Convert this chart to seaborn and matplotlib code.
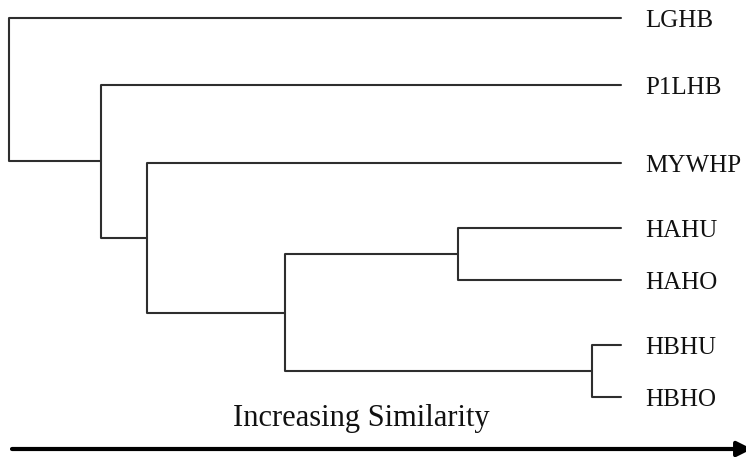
import numpy as np
import pandas as pd
import matplotlib
matplotlib.use("Agg")
import matplotlib.pyplot as plt
import seaborn as sns

# ---- data -------------------------------------------------------------
leaves = ["LGHB", "P1LHB", "MYWHP", "HAHU", "HAHO", "HBHU", "HBHO"]
merge_names = ["C6", "C5", "C4", "C3", "C2", "C1"]
merge_left = ["HBHU", "HAHU", "C5", "MYWHP", "P1LHB", "LGHB"]
merge_right = ["HBHO", "HAHO", "C6", "C4", "C3", "C2"]
merge_sim = [0.953, 0.734, 0.451, 0.225, 0.150, 0.0]
axis_label = "Increasing Similarity"

# ---- layout (rows of leaves, in pixel-like units from top) -------------
leaf_rows = [18, 85, 163, 228, 280, 345, 397]

sns.set_style("white")
plt.rcParams["font.family"] = ["Liberation Serif", "DejaVu Serif"]

W, H = 746, 457
fig = plt.figure(figsize=(W / 100, H / 100), dpi=100)
ax = fig.add_axes([0, 0, 1, 1])

pos = {name: (1.0, row) for name, row in zip(leaves, leaf_rows)}
segs = []
for k, (nm, l, r, s) in enumerate(zip(merge_names, merge_left, merge_right, merge_sim)):
    lx, ly = pos[l]
    rx, ry = pos[r]
    for (px, py) in [(lx, ly), (s, ly), (s, ry), (rx, ry)]:
        segs.append({"x": px, "y": py, "seg": k})
    pos[nm] = (s, (ly + ry) / 2)

df = pd.DataFrame(segs)
sns.lineplot(data=df, x="x", y="y", units="seg", estimator=None, sort=False,
             color="#2e2e2e", linewidth=1.5, legend=False, ax=ax)

px_per_unit = 612
x0 = 9
ax.set_xlim(-x0 / px_per_unit, (W - x0) / px_per_unit)
ax.set_ylim(H, 0)
ax.axis("off")

label_dx = 24 / px_per_unit
for name, row in zip(leaves, leaf_rows):
    ax.text(1.0 + label_dx, row + 3, name, fontsize=18, va="center", ha="left",
            color="#111111")

fig.text(361.5 / W, 1 - 426 / H, axis_label, fontsize=22, ha="center",
         va="baseline", color="#111111")

ax.annotate("", xy=(752 / W, 1 - 449 / H), xytext=(12 / W, 1 - 449 / H),
            xycoords="figure fraction", textcoords="figure fraction",
            annotation_clip=False,
            arrowprops=dict(arrowstyle="-|>", lw=3, color="black",
                            mutation_scale=22, shrinkA=0, shrinkB=0))

fig.savefig("out.png", dpi=100)
